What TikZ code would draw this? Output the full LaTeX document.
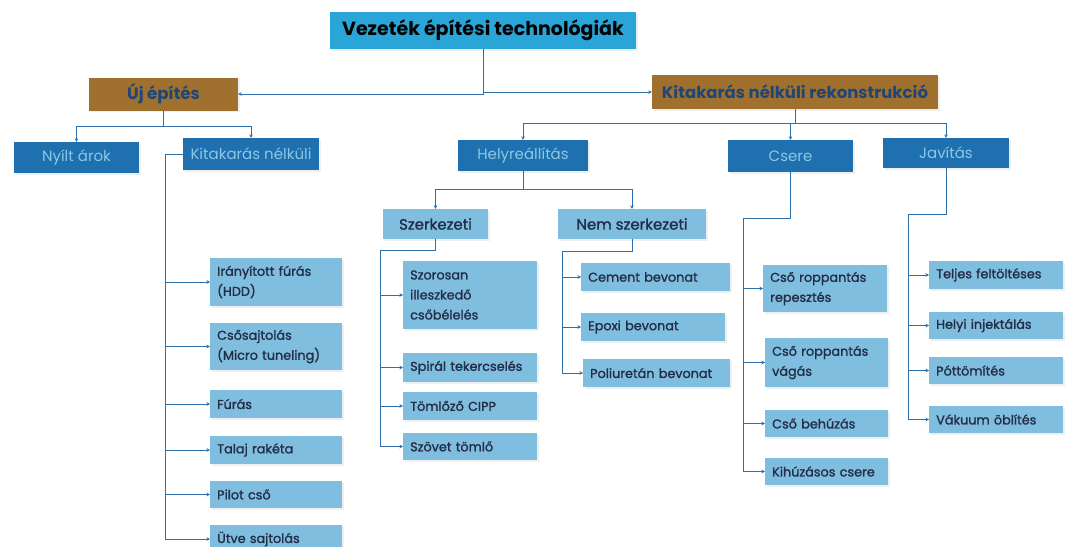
\documentclass[tikz,border=0pt]{standalone}
\usepackage{fontspec}
\setmainfont{Poppins}
\newfontfamily\medfont{Poppins}[FakeBold=1.3]
\usetikzlibrary{positioning,calc,arrows.meta,shadows}

\begin{document}
\begin{tikzpicture}[x=1pt,y=-1pt]
	\definecolor{ttlblue}{RGB}{42,165,216}
	\definecolor{brn}{RGB}{160,112,46}
	\definecolor{dblue}{RGB}{30,112,174}
	\definecolor{lblue}{RGB}{128,190,223}
	\definecolor{lnblue}{RGB}{46,110,170}
	\definecolor{leaftxt}{RGB}{35,45,70}
	\definecolor{paletxt}{RGB}{140,200,230}
	\definecolor{brntxt}{RGB}{30,70,120}
	\tikzset{
		box/.style={
			rectangle, inner sep=0pt,
			drop shadow={shadow xshift=1.5pt, shadow yshift=-1.5pt, fill=black!12}
		},
		head/.style={
			box, fill=ttlblue, text=black,
			font=\bfseries\fontsize{19}{22}\selectfont
		},
		tier/.style={
			box, fill=brn, text=brntxt,
			font=\bfseries\fontsize{16.5}{19}\selectfont
		},
		cat/.style={
			box, fill=dblue, text=paletxt,
			font=\fontsize{15}{18}\selectfont
		},
		sub/.style={
			box, fill=lblue, text=leaftxt,
			font=\medfont\fontsize{15}{18}\selectfont
		},
		leaf/.style={
			box, fill=lblue, text=leaftxt, anchor=west, align=left,
			inner xsep=7pt, font=\medfont\fontsize{12.8}{20}\selectfont
		},
		line/.style={draw=lnblue, line width=1pt},
		conn/.style={
			-{Stealth[length=3.5pt,width=3.5pt]},
			draw=lnblue, line width=1pt
		}
	}
	\useasboundingbox (0,0) rectangle (1067,546);
	\clip (0,0) rectangle (1067,546);

	% ======= Gyökér és a két fő ág =======
	\node[head, minimum width=306, minimum height=37] (top) at (483,30.5) {Vezeték építési technológiák};
	\node[tier, minimum width=149, minimum height=33] (uj) at (163.5,94) {Új építés};
	\node[tier, minimum width=286, minimum height=34] (kr) at (795,92) {Kitakarás nélküli rekonstrukció};

	\draw[conn] (top.south) |- (uj.east);
	\draw[conn] (top.south) |- (kr.west);

	% ======= Új építés ága =======
	\node[cat, minimum width=125, minimum height=31] (nyilt) at (76.5,157.5) {Nyílt árok};
	\node[cat, minimum width=136, minimum height=32] (kn) at (251,154) {Kitakarás nélküli};

	\coordinate (ujj) at (160,126);
	\draw[line] (uj.south) |- (ujj);
	\draw[conn] (ujj) -| (nyilt.north);
	\draw[conn] (ujj) -| (kn.north);

	% ======= Kitakarás nélküli rekonstrukció ága =======
	\node[cat, minimum width=130, minimum height=31] (hely) at (523,155.5) {Helyreállítás};
	\node[cat, minimum width=125, minimum height=32] (csr) at (790.5,156) {Csere};
	\node[cat, minimum width=126, minimum height=30] (jav) at (946,153) {Javítás};

	\coordinate (krj) at (795,123);
	\draw[line] (kr.south) -- (krj);
	\draw[conn] (krj) -| (hely.north);
	\draw[conn] (krj) -| (csr.north);
	\draw[conn] (krj) -| (jav.north);

	% ======= Helyreállítás: szerkezeti / nem szerkezeti =======
	\node[sub, minimum width=105, minimum height=30] (szk) at (435.5,224) {Szerkezeti};
	\node[sub, minimum width=148, minimum height=30] (nsz) at (632,224) {Nem szerkezeti};

	\coordinate (helyj) at (523,189);
	\draw[line] (hely.south) -- (helyj);
	\draw[conn] (helyj) -| (szk.north);
	\draw[conn] (helyj) -| (nsz.north);

	% ======= Kitakarás nélküli: módszerek =======
	\node[leaf, text width=118, minimum height=48] (hdd) at (210,282) {Irányított fúrás\\(HDD)};
	\node[leaf, text width=118, minimum height=47] (csos) at (210,346.5) {Csősajtolás\\(Micro tuneling)};
	\node[leaf, text width=118, minimum height=28] (fur) at (210,404) {Fúrás};
	\node[leaf, text width=118, minimum height=28] (tal) at (210,450) {Talaj rakéta};
	\node[leaf, text width=118, minimum height=27] (pil) at (210,494.5) {Pilot cső};
	\node[leaf, text width=118, minimum height=28] (utv) at (210,539) {Ütve sajtolás};

	\coordinate (knj) at (165,154);
	\draw[line] (kn.west) -- (knj);
	\draw[conn] (knj) |- (hdd.west);
	\draw[conn] (knj) |- (csos.west);
	\draw[conn] (knj) |- (fur.west);
	\draw[conn] (knj) |- (tal.west);
	\draw[conn] (knj) |- (pil.west);
	\draw[conn] (knj) |- (utv.west);

	% ======= Szerkezeti =======
	\node[leaf, text width=120, minimum height=68] (szo) at (403,295) {Szorosan\\illeszkedő\\csőbélelés};
	\node[leaf, text width=120, minimum height=29] (spi) at (403,367.5) {Spirál tekercselés};
	\node[leaf, text width=120, minimum height=28] (tom) at (403,406) {Tömlőző CIPP};
	\node[leaf, text width=120, minimum height=27] (szov) at (403,446.5) {Szövet tömlő};

	\coordinate (szkj) at (380,250);
	\draw[line] (szk.south) |- (szkj);
	\draw[conn] (szkj) |- (szo.west);
	\draw[conn] (szkj) |- (spi.west);
	\draw[conn] (szkj) |- (tom.west);
	\draw[conn] (szkj) |- (szov.west);

	% ======= Nem szerkezeti =======
	\node[leaf, text width=135, minimum height=28] (cem) at (581,277) {Cement bevonat};
	\node[leaf, text width=130, minimum height=28] (epo) at (581,327) {Epoxi bevonat};
	\node[leaf, text width=133, minimum height=28] (pol) at (583,373) {Poliuretán bevonat};

	\coordinate (nszj) at (562,251);
	\draw[line] (nsz.south) |- (nszj);
	\draw[conn] (nszj) |- (cem.west);
	\draw[conn] (nszj) |- (epo.west);
	\draw[conn] (nszj) |- (pol.west);

	% ======= Csere =======
	\node[leaf, text width=110, minimum height=47] (rep) at (763,288.5) {Cső roppantás\\repesztés};
	\node[leaf, text width=109, minimum height=49] (vag) at (765,362.5) {Cső roppantás\\vágás};
	\node[leaf, text width=109, minimum height=27] (beh) at (765,423.5) {Cső behúzás};
	\node[leaf, text width=109, minimum height=27] (kih) at (765,471.5) {Kihúzásos csere};

	\coordinate (csrj) at (743,218);
	\draw[line] (csr.south) |- (csrj);
	\draw[conn] (csrj) |- (rep.west);
	\draw[conn] (csrj) |- (vag.west);
	\draw[conn] (csrj) |- (beh.west);
	\draw[conn] (csrj) |- (kih.west);

	% ======= Javítás =======
	\node[leaf, text width=120, minimum height=28] (tel) at (929,275) {Teljes feltöltéses};
	\node[leaf, text width=120, minimum height=27] (hel) at (929,325.5) {Helyi injektálás};
	\node[leaf, text width=120, minimum height=27] (pot) at (929,370.5) {Póttömítés};
	\node[leaf, text width=120, minimum height=27] (vak) at (929,419.5) {Vákuum öblítés};

	\coordinate (javj) at (908,214);
	\draw[line] (jav.south) |- (javj);
	\draw[conn] (javj) |- (tel.west);
	\draw[conn] (javj) |- (hel.west);
	\draw[conn] (javj) |- (pot.west);
	\draw[conn] (javj) |- (vak.west);

\end{tikzpicture}
\end{document}
